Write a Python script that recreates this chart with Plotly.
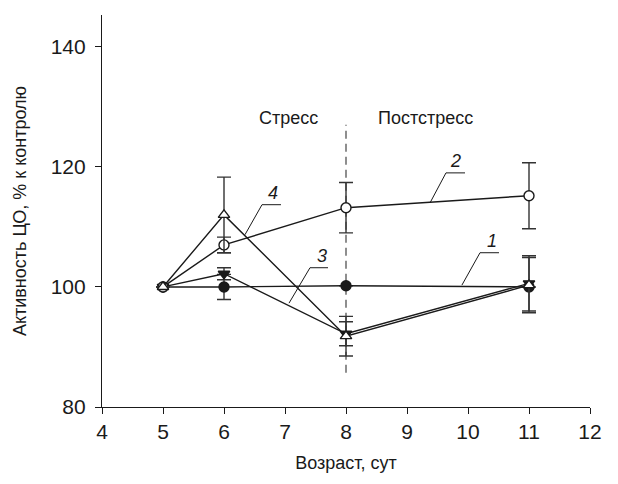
import plotly.graph_objects as go

# Data
days = [5, 6, 8, 11]
s1 = [100, 100, 100.2, 100]
s1_err = [0, 2.1, 0, 0]
s2 = [100, 107, 113.2, 115.2]
s2_err = [0, 1.3, 4.2, 5.5]
s3 = [100, 102.2, 92.2, 100.6]
s3_err = [0, 1.0, 2.0, 4.6]
s4 = [100, 112, 91.8, 100.3]
s4_err = [0, 6.3, 3.3, 4.6]

x_ticks = [4, 5, 6, 7, 8, 9, 10, 11, 12]
y_ticks = [80, 100, 120, 140]

LINE = "#1a1a1a"
FONT = "Liberation Sans, Arial, sans-serif"

fig = go.Figure()

def add_series(y, err, symbol, fill):
    fig.add_trace(go.Scatter(
        x=days, y=y, mode="lines+markers",
        line=dict(color=LINE, width=1.4),
        marker=dict(symbol=symbol, size=10, color=fill,
                    line=dict(color=LINE, width=1.4)),
        error_y=dict(type="data", array=err, visible=True,
                     color="#333333", thickness=1.4, width=7),
        showlegend=False,
    ))

add_series(s1, s1_err, "circle", LINE)
add_series(s3, s3_err, "triangle-down", LINE)
add_series(s2, s2_err, "circle", "white")
add_series(s4, s4_err, "triangle-up", "white")

# dashed separator between stress and post-stress
fig.add_shape(type="line", x0=8, x1=8, y0=85.7, y1=127,
              line=dict(color="#444444", width=1.2, dash="8px,5px"), layer="below")

# leader lines for series labels
leaders = [
    ([9.90, 10.197, 10.508], [100.3, 105.7, 105.7]),
    ([9.377, 9.639, 9.951], [114.0, 119.0, 119.0]),
    ([7.066, 7.41, 7.705], [97.3, 103.2, 103.2]),
    ([6.344, 6.623, 6.934], [108.7, 113.7, 113.7]),
]
for lx, ly in leaders:
    fig.add_trace(go.Scatter(x=lx, y=ly, mode="lines",
                             line=dict(color=LINE, width=1), showlegend=False,
                             hoverinfo="skip"))

labels = [("1", 10.39, 107.6), ("2", 9.80, 120.9), ("3", 7.61, 105.2), ("4", 6.81, 115.7)]
for t, lx, ly in labels:
    fig.add_annotation(x=lx, y=ly, text=f"<i>{t}</i>", showarrow=False,
                       font=dict(size=18, color=LINE, family=FONT))

fig.add_annotation(x=7.05, y=128.2, text="Стресс", showarrow=False,
                   font=dict(size=18, color=LINE, family=FONT))
fig.add_annotation(x=9.3, y=128.2, text="Постстресс", showarrow=False,
                   font=dict(size=18, color=LINE, family=FONT))

fig.update_layout(
    width=610, height=476,
    margin=dict(l=94, r=28, t=7, b=77),
    paper_bgcolor="white", plot_bgcolor="white",
    font=dict(family=FONT, color=LINE),
    xaxis=dict(range=[4, 12], tickvals=x_ticks, showline=True, linecolor=LINE,
               linewidth=1.2, ticks="outside", ticklen=6, tickcolor=LINE,
               showgrid=False, zeroline=False, tickfont=dict(size=21),
               title=dict(text="Возраст, сут", font=dict(size=18), standoff=14)),
    yaxis=dict(range=[80, 145.3], tickvals=y_ticks, showline=True, linecolor=LINE,
               linewidth=1.2, ticks="outside", ticklen=6, tickcolor=LINE,
               showgrid=False, zeroline=False, tickfont=dict(size=21),
               ticklabelstandoff=5,
               title=dict(text="Активность ЦО, % к контролю", font=dict(size=18), standoff=19)),
)

fig.write_html("out.html")
